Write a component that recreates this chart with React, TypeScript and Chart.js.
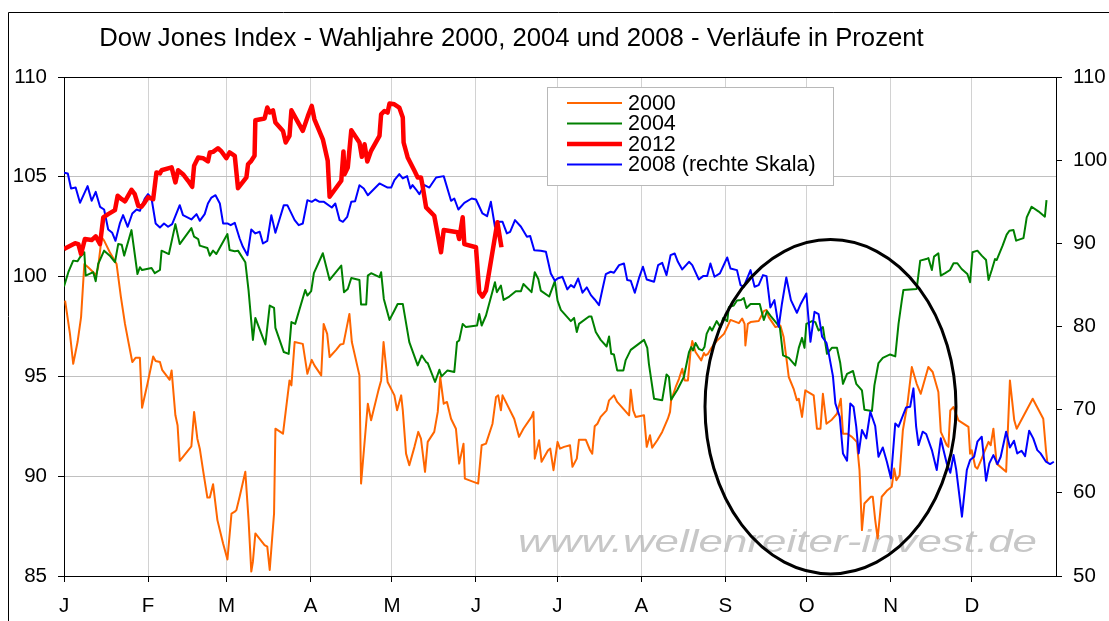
import { useEffect, useRef } from 'react';
import { Chart, registerables } from 'chart.js';

Chart.register(...registerables);

const TITLE = 'Dow Jones Index - Wahljahre 2000, 2004 und 2008 - Verläufe in Prozent';
const WATERMARK = 'www.wellenreiter-invest.de';
const FONT = '"Liberation Sans", Arial, Helvetica, sans-serif';

// x axis: day of year, ticks at month starts (leap-year calendar)
const monthStarts = [0, 31, 60, 91, 121, 152, 182, 213, 244, 274, 305, 335];
const monthLabels = ['J', 'F', 'M', 'A', 'M', 'J', 'J', 'A', 'S', 'O', 'N', 'D'];
const leftTicks = [85, 90, 95, 100, 105, 110];
const rightTicks = [50, 60, 70, 80, 90, 100, 110];

// 2000 (left scale)
const d2000 = [0.4, 2.2, 3.4, 5.0, 6.3, 7.5, 8.9, 10.8, 11.7, 12.6, 13.9, 14.8, 16.9, 19.4, 21.0, 22.5, 23.9, 25.2, 26.4, 28.0, 28.8, 30.8, 32.9, 33.8, 35.4, 36.2, 39.0, 39.7, 41.1, 41.9, 42.7, 47.0, 48.0, 49.2, 50.1, 51.3, 52.9, 53.8, 55.0, 56.6, 58.7, 60.3, 61.8, 63.0,
  63.6, 64.8, 66.9, 68.1, 69.1, 69.7, 70.6, 74.0, 75.0, 75.9, 77.5, 78.0, 80.8, 83.2, 83.9, 85.1, 88.1, 89.8, 91.4, 92.4, 94.9, 95.8, 97.1, 98.0, 100.4, 102.0, 103.1, 105.3, 106.2, 109.0, 109.6, 112.1, 113.3, 116.0, 117.0, 117.9, 119.4,
  121.9, 122.9, 124.4, 125.0, 126.2, 127.4, 129.3, 130.7, 131.7, 133.2, 134.2, 136.6, 137.9, 138.8, 140.1, 141.3, 142.8, 144.6, 145.8, 147.4, 147.9, 152.8, 154.1, 155.7, 158.1, 159.4, 160.2, 161.2, 161.8, 166.1, 167.9, 169.5, 172.5, 173.2, 173.7, 175.3, 176.2, 178.6, 179.4, 180.6, 182.1, 183.0,
  184.5, 186.7, 187.6, 189.2, 190.0, 192.5, 194.1, 194.9, 195.8, 196.8, 198.0, 200.2, 201.1, 202.9, 204.1, 208.5, 209.1, 210.0, 210.9, 214.0, 215.0, 216.2, 217.0, 218.9, 220.7, 222.8, 223.6, 224.0, 225.7, 226.9, 228.1, 229.0, 230.2, 231.2, 231.8, 233.0, 235.1, 236.1, 236.7, 237.6, 239.1, 241.0, 243.5, 244.7, 245.9, 247.1, 249.0,
  250.2, 251.1, 251.4, 252.3, 253.3, 256.3, 258.2, 259.2, 260.0, 262.5, 264.3, 265.5, 266.8, 267.4, 269.2, 270.4, 271.1, 272.3, 273.5, 276.6, 277.8, 279.1, 280.0, 281.3, 283.3, 285.2, 286.6, 287.4, 288.9, 290.7, 292.5, 293.5, 294.4, 295.3, 297.7, 298.4, 299.3, 300.2, 301.7, 303.8, 305.4, 306.3, 307.1, 308.3, 309.5,
  311.2, 312.8, 314.6, 316.1, 318.9, 320.5, 322.6, 323.5, 325.7, 326.3, 327.0, 328.2, 330.0, 333.7, 334.3, 334.9, 336.2, 337.0, 338.6, 339.8, 341.1, 341.9, 342.9, 344.1, 347.6, 349.0, 350.6, 351.5, 357.4, 361.3, 362.3, 362.8];
const v2000 = [98.8, 97.13, 95.63, 96.72, 97.97, 100.63, 100.47, 100.22, 100.05, 100.47, 101.97, 101.8, 101.22, 100.63, 98.97, 97.63, 96.63, 95.72, 95.93, 95.93, 93.43, 94.63, 96.0, 95.77, 95.72, 95.33, 94.83, 95.3, 93.05, 92.55, 90.77, 91.5, 93.22, 91.88, 91.38, 90.3, 88.93, 88.93, 89.6, 87.8, 86.63, 85.83, 88.13, 88.22,
  88.3, 88.97, 90.22, 87.8, 85.22, 85.72, 87.13, 86.55, 86.47, 85.3, 88.13, 92.38, 92.13, 94.8, 94.55, 96.72, 96.63, 95.13, 95.83, 95.55, 95.05, 97.63, 97.13, 95.97, 96.33, 96.6, 96.63, 98.13, 96.72, 95.05, 89.63, 93.63, 92.8, 94.3, 94.8, 96.72, 94.72,
  94.05, 93.3, 94.05, 93.3, 91.13, 90.55, 91.47, 92.22, 91.88, 90.22, 91.72, 92.22, 93.22, 94.97, 93.63, 93.72, 92.88, 92.38, 90.63, 91.63, 89.88, 89.63, 91.55, 91.63, 92.63, 93.97, 94.05, 93.3, 94.05, 92.88, 91.97, 92.38, 92.97, 93.22, 90.88, 91.8, 90.72, 91.3, 91.38, 90.3, 91.72, 91.38,
  91.47, 91.55, 90.47, 90.88, 91.83, 91.83, 91.3, 91.13, 92.5, 92.63, 92.97, 93.3, 93.8, 94.05, 93.72, 93.05, 94.33, 93.3, 92.97, 93.05, 91.47, 92.05, 91.43, 91.8, 92.22, 92.88, 93.22, 93.8, 94.47, 94.88, 95.38, 94.8, 94.8, 96.3, 96.77, 96.22, 95.8, 96.17, 96.05, 96.13, 96.47, 96.8, 97.13, 97.47, 97.83, 97.77, 97.67,
  97.9, 97.63, 96.55, 97.63, 97.72, 97.77, 98.27, 98.33, 97.97, 97.47, 97.55, 96.97, 95.63, 94.97, 94.38, 93.8, 93.88, 92.97, 94.3, 94.05, 92.38, 92.38, 94.13, 92.63, 92.83, 93.13, 93.88, 92.13, 92.13, 91.97, 91.72, 90.3, 87.3, 88.63, 88.97, 88.97, 87.8, 86.88, 88.97, 89.3, 89.47, 90.38, 89.8, 90.05, 92.3,
  93.63, 95.47, 94.63, 94.13, 95.47, 95.22, 94.22, 92.22, 91.55, 91.47, 93.3, 93.47, 92.8, 92.47, 91.13, 91.3, 90.47, 90.38, 90.88, 91.3, 91.72, 91.55, 92.38, 90.63, 90.22, 94.8, 92.8, 92.38, 93.88, 92.88, 91.3, 90.7];

// 2004 (left scale)
const d2004 = [0, 1.6, 3.4, 5.0, 5.9, 7.5, 8.0, 10.8, 11.7, 12.6, 14.8, 16.9, 18.8, 20.0, 21.3, 22.2, 24.9, 27.1, 28.0, 28.8, 32.3, 33.5, 35.4, 36.0, 38.7, 41.1, 42.7, 47.0, 48.0, 49.5, 50.1, 52.9, 53.8, 55.0, 56.2, 60.3, 61.1, 63.0,
  64.2, 66.9, 68.1, 69.7, 70.6, 74.3, 75.9, 77.5, 78.0, 81.1, 82.9, 83.9, 85.3, 89.0, 89.8, 91.2, 92.2, 95.5, 98.0, 102.3, 103.3, 104.7, 106.0, 109.0, 109.6, 111.5, 112.1, 113.3, 116.4, 117.0, 118.0, 120.1,
  121.9, 123.1, 125.0, 127.4, 130.5, 132.0, 133.6, 134.2, 136.9, 138.5, 139.3, 141.5, 144.0, 145.0, 145.8, 147.1, 148.3, 152.4, 153.2, 154.1, 155.7, 159.0, 159.7, 161.2, 162.2, 164.3, 166.7, 168.6, 169.5, 172.5, 173.7, 175.0, 175.9, 179.0, 181.1, 182.1, 183.3, 187.0, 188.2,
  189.2, 190.0, 193.7, 194.6, 196.2, 198.0, 200.2, 201.1, 201.9, 202.9, 204.1, 206.4, 207.2, 209.1, 214.0, 215.2, 215.8, 217.7, 220.7, 222.3, 223.2, 224.0, 226.3, 228.7, 230.6, 231.4, 232.1, 233.0, 234.2, 235.5, 236.3, 237.1, 238.3, 239.1, 240.8, 242.2, 243.2, 244.7, 245.3, 247.1, 248.3, 249.8, 250.8,
  251.8, 253.3, 256.7, 258.2, 259.4, 260.6, 264.1, 265.3, 267.4, 269.8, 271.1, 272.3, 273.2, 273.9, 276.0, 277.2, 278.4, 280.0, 281.5, 283.3, 285.2, 286.4, 287.4, 288.9, 291.1, 292.3, 294.4, 295.3, 298.1, 299.0, 300.5, 302.1, 304.8, 306.7, 307.9, 309.1, 309.7,
  314.6, 315.9, 318.1, 318.9, 320.2, 321.0, 322.6, 323.5, 325.1, 326.9, 328.2, 329.6, 331.2, 333.3, 334.3, 335.2, 337.0, 338.6, 340.2, 341.1, 342.3, 343.5, 344.1, 346.3, 347.8, 348.8, 350.3, 351.3, 354.0, 355.2, 357.0, 359.5, 361.9, 362.5];
const v2004 = [99.5, 100.22, 100.8, 100.77, 100.97, 101.22, 100.05, 100.22, 99.77, 100.63, 101.3, 101.05, 100.72, 101.63, 101.6, 101.05, 102.33, 100.13, 100.47, 100.33, 100.43, 100.17, 100.33, 101.3, 101.13, 102.63, 101.63, 102.43, 102.0, 101.88, 101.55, 101.43, 101.05, 101.3, 101.13, 102.13, 101.33, 101.27,
  101.3, 100.72, 99.3, 96.83, 97.93, 96.6, 98.55, 98.43, 97.43, 96.22, 96.13, 97.72, 97.63, 99.33, 99.05, 99.27, 100.17, 101.17, 99.83, 100.55, 99.22, 99.38, 99.93, 99.83, 98.6, 98.6, 100.05, 100.17, 99.97, 100.22, 98.88, 97.83,
  98.3, 98.63, 98.63, 96.72, 95.55, 96.05, 95.72, 95.67, 94.72, 95.33, 95.0, 95.3, 95.22, 96.72, 96.8, 97.63, 97.47, 97.55, 98.13, 97.55, 98.05, 99.72, 99.22, 99.55, 98.83, 99.0, 99.27, 99.27, 99.63, 99.22, 100.22, 99.88, 99.3, 99.0, 99.77, 98.8, 98.33, 97.77, 97.93,
  97.22, 97.63, 98.0, 98.0, 97.22, 96.83, 96.5, 97.0, 96.13, 96.1, 95.3, 95.3, 95.8, 96.33, 96.83, 96.43, 95.63, 93.88, 93.8, 95.1, 94.97, 93.83, 94.33, 94.97, 96.22, 96.47, 96.3, 96.67, 96.38, 96.3, 96.47, 97.13, 97.47, 97.3, 97.77, 97.47, 97.93, 97.77, 98.47, 98.55, 98.8, 98.83, 98.93,
  98.43, 98.63, 98.63, 97.83, 98.27, 98.05, 97.47, 96.05, 95.93, 95.55, 96.43, 96.93, 96.43, 97.63, 97.77, 97.72, 97.3, 97.47, 96.13, 96.43, 96.43, 95.67, 94.63, 95.13, 95.27, 94.63, 94.3, 93.33, 93.27, 94.55, 95.67, 95.93, 96.1, 96.0, 97.63, 98.8, 99.33,
  99.38, 100.8, 100.88, 100.93, 100.33, 101.0, 101.17, 100.05, 100.17, 100.33, 100.67, 100.67, 100.38, 100.13, 99.72, 101.22, 101.3, 101.05, 100.83, 99.83, 100.33, 100.88, 100.83, 101.55, 102.1, 102.3, 102.33, 101.8, 101.93, 102.97, 103.5, 103.27, 103.0, 103.83];

// 2012 (left scale)
const d2012 = [0, 4.1, 5.3, 6.3, 7.7, 10.2, 11.7, 13.3, 14.5, 16.3, 18.8, 19.8, 21.3, 22.5, 24.9, 26.1, 27.4, 28.6, 29.8, 31.0, 32.9, 34.1, 35.4, 36.0, 39.7, 41.1, 42.1, 43.9, 45.8, 47.3, 48.0, 49.5, 51.3, 53.1, 53.8, 55.0, 56.8, 58.1, 59.9, 61.1, 63.0, 64.2, 67.3, 67.9, 69.1, 70.3, 70.6, 74.0, 75.0, 75.9, 77.1, 78.0, 80.8, 81.8, 83.2, 83.9, 88.1, 90.0, 91.4, 92.4, 95.5, 97.3, 98.0, 102.3, 103.1, 103.5, 104.7, 106.0, 109.0, 109.9, 110.9, 111.9, 113.3, 116.4, 117.0, 118.2, 119.4, 120.1, 121.9, 123.7, 125.0, 125.3, 126.8, 129.3, 130.5, 131.7, 132.3, 133.6, 136.6, 139.1, 140.1, 145.2, 145.8, 147.1, 147.7, 152.0, 153.2, 154.4, 155.7, 159.9, 161.4];
const v2012 = [101.38, 101.67, 101.63, 101.13, 101.88, 101.83, 102.02, 101.63, 102.97, 103.13, 103.33, 104.05, 103.88, 103.77, 104.35, 104.13, 103.55, 103.5, 103.72, 103.97, 103.88, 105.22, 105.17, 105.33, 105.47, 104.72, 105.33, 105.13, 104.8, 104.5, 105.55, 105.97, 105.93, 105.77, 106.22, 106.25, 106.43, 106.27, 105.93, 106.22, 106.05, 104.43, 104.97, 105.63, 105.8, 106.05, 107.83, 107.92, 108.47, 108.22, 108.33, 107.72, 107.3, 106.72, 107.05, 108.33, 107.3, 108.05, 108.55, 107.88, 106.88, 105.8, 104.0, 104.8, 106.27, 105.13, 105.47, 107.33, 106.72, 106.0, 106.63, 105.77, 106.3, 107.05, 108.13, 108.3, 108.22, 108.67, 108.63, 108.47, 107.97, 106.72, 105.97, 105.3, 104.97, 104.97, 104.55, 103.47, 103.05, 101.22, 102.33, 102.22, 101.88, 102.97, 101.63, 101.47, 99.22, 99.0, 99.3, 102.72, 101.47];

// 2008 (right scale)
const d2008 = [0, 1.4, 2.6, 4.3, 5.9, 8.7, 10.2, 11.7, 13.3, 14.8, 16.3, 17.8, 19.0, 20.6, 21.8, 23.5, 25.2, 26.8, 28.0, 29.8, 31.0, 32.3, 33.8, 35.4, 36.9, 38.4, 39.9, 42.7, 43.9, 47.0, 48.9, 50.1, 51.9, 53.1, 54.4, 55.9, 57.5, 58.7, 60.3, 61.5, 63.0,
  64.8, 66.0, 67.7, 69.1, 70.6, 72.2, 73.4, 75.0, 76.5, 78.0, 79.6, 81.1, 82.4, 85.1, 86.6, 88.1, 89.8, 91.4, 92.7, 94.3, 95.9, 98.8, 100.1, 101.7, 102.9, 104.5, 106.0, 107.4, 109.0, 110.6, 112.1, 116.4, 119.4, 120.7,
  121.9, 123.7, 125.0, 126.6, 127.8, 128.6, 129.9, 131.1, 133.0, 134.8, 137.3, 140.1, 142.8, 144.0, 145.5, 147.7, 150.4, 152.0, 154.4, 156.1, 157.5, 159.0, 160.0, 161.8, 163.4, 164.6, 166.4, 168.6, 170.8, 172.0, 173.5, 175.9, 177.8, 179.6, 181.1, 182.1, 183.9,
  185.7, 187.0, 188.2, 189.7, 191.3, 192.9, 194.4, 195.8, 197.4, 198.6, 199.9, 201.7, 202.9, 204.8, 206.6, 207.8, 209.1, 210.6, 212.1, 213.6, 215.0, 217.7, 219.2, 220.7, 222.3, 223.8, 225.3, 226.5, 228.1, 230.6, 231.8, 234.2, 235.8, 237.3, 238.5, 240.0, 242.0, 244.7, 245.9, 248.3, 249.6, 250.8,
  253.3, 254.8, 256.3, 257.9, 259.2, 260.6, 262.1, 263.7, 264.9, 266.5, 268.2, 270.4, 271.9, 273.9, 275.4, 276.9, 278.4, 279.7, 281.3, 282.1, 283.7, 284.6, 286.2, 287.4, 288.9, 290.1, 291.3, 292.3, 293.2, 294.4, 296.0, 297.5, 299.3, 300.5, 302.1, 303.6, 305.1, 306.7, 307.9, 310.7, 312.2, 313.4,
  314.4, 315.3, 316.8, 318.1, 320.2, 322.0, 323.5, 324.2, 325.7, 327.0, 328.2, 329.2, 331.3, 333.1, 334.3, 335.8, 337.0, 338.6, 340.2, 341.4, 342.9, 344.4, 345.6, 347.6, 349.0, 350.5, 351.7, 353.3, 354.6, 356.1, 357.6, 359.1, 360.3, 362.3, 363.8, 365.2];
const v2008 = [98.48, 98.4, 96.6, 96.72, 94.87, 96.88, 95.11, 96.19, 94.39, 94.07, 91.67, 91.27, 90.3, 92.39, 93.39, 91.99, 93.59, 94.07, 93.91, 95.39, 95.91, 95.39, 92.39, 91.91, 92.39, 91.99, 92.31, 94.59, 93.39, 92.87, 93.51, 92.71, 93.51, 94.79, 95.51, 95.79, 94.79, 92.39, 92.39, 92.19, 92.47,
  90.58, 89.58, 88.58, 91.67, 91.19, 91.39, 89.98, 90.3, 93.39, 91.27, 92.99, 94.59, 94.59, 92.79, 92.19, 92.39, 95.19, 94.99, 95.27, 94.99, 94.99, 94.31, 94.79, 92.79, 92.59, 93.19, 94.99, 95.07, 96.99, 96.59, 95.79, 97.2, 96.71, 96.71,
  97.6, 98.32, 97.8, 98.08, 96.6, 97.0, 96.47, 95.91, 97.0, 96.71, 97.92, 98.08, 95.11, 95.39, 94.07, 94.87, 95.39, 95.27, 93.59, 93.27, 94.99, 91.99, 92.59, 92.59, 91.19, 91.39, 92.79, 91.99, 90.79, 90.87, 89.18, 89.1, 88.98, 86.38, 85.5, 85.78, 85.98,
  84.46, 84.98, 84.7, 85.78, 84.06, 84.7, 83.77, 83.25, 82.57, 84.38, 86.3, 86.58, 86.46, 87.38, 87.58, 85.58, 85.5, 84.06, 85.78, 87.18, 85.66, 85.38, 87.38, 87.66, 86.18, 88.58, 88.78, 87.78, 86.86, 87.78, 87.38, 85.66, 86.06, 86.06, 87.58, 85.98, 86.38, 88.3, 86.98, 86.78, 84.98, 84.78,
  86.78, 84.78, 84.98, 86.18, 86.06, 82.29, 83.17, 79.97, 82.77, 85.9, 83.17, 81.65, 82.77, 83.97, 78.16, 81.77, 81.49, 78.77, 78.05, 76.86, 74.04, 70.75, 69.15, 64.74, 63.86, 70.75, 70.35, 67.95, 64.74, 67.55, 66.55, 69.75, 68.03, 64.34, 65.46, 63.74, 61.74, 68.35, 67.95, 70.27, 70.35, 72.56,
  67.95, 65.75, 67.35, 67.07, 65.14, 62.74, 66.55, 65.55, 63.54, 62.42, 64.54, 62.74, 57.13, 62.74, 63.94, 64.34, 66.15, 66.75, 61.46, 63.54, 64.54, 63.46, 64.34, 67.35, 65.46, 66.27, 64.74, 65.06, 64.42, 67.47, 66.55, 65.14, 64.74, 63.74, 63.46, 63.74];

// highlighted region (ellipse) in data units
const ellipseCenterDay = 282.8;
const ellipseCenterValue = 93.48;
const ellipseRadiusDays = 46.3;
const ellipseRadiusValue = 8.375;

const legendOrder = ['2000', '2004', '2012', '2008 (rechte Skala)'];

const zip = (d: number[], v: number[]) =>
  d.slice(0, Math.min(d.length, v.length)).map((x, i) => ({ x, y: v[i] }));

const decorPlugin = {
  id: 'decor',
  beforeDatasetsDraw(chart: any) {
    const { ctx } = chart;
    ctx.save();
    ctx.font = `italic 32px ${FONT}`;
    const w = ctx.measureText(WATERMARK).width;
    ctx.translate(518, 552);
    ctx.scale(519 / w, 1);
    ctx.fillStyle = 'rgba(185,185,185,0.8)';
    ctx.textBaseline = 'alphabetic';
    ctx.textAlign = 'left';
    ctx.fillText(WATERMARK, 0, 0);
    ctx.restore();
  },
  afterDatasetsDraw(chart: any) {
    const { ctx, chartArea: a, scales } = chart;
    ctx.save();
    // top border of plot area
    ctx.strokeStyle = '#000';
    ctx.lineWidth = 1;
    ctx.beginPath();
    const ty = Math.round(a.top) + 0.5;
    ctx.moveTo(a.left, ty);
    ctx.lineTo(a.right, ty);
    ctx.stroke();

    // ellipse
    const xs = scales.x;
    const ys = scales.y;
    const cx = xs.getPixelForValue(ellipseCenterDay);
    const cy = ys.getPixelForValue(ellipseCenterValue);
    const rx = xs.getPixelForValue(ellipseCenterDay + ellipseRadiusDays) - cx;
    const ry = cy - ys.getPixelForValue(ellipseCenterValue + ellipseRadiusValue);
    ctx.beginPath();
    ctx.ellipse(cx, cy, rx, ry, 0, 0, Math.PI * 2);
    ctx.lineWidth = 3;
    ctx.strokeStyle = '#000';
    ctx.stroke();

    // legend
    const bx = 547, by = 87, bw = 286, bh = 98;
    ctx.fillStyle = '#fff';
    ctx.fillRect(bx, by, bw, bh);
    ctx.lineWidth = 1;
    ctx.strokeStyle = '#b8b8b8';
    ctx.strokeRect(bx + 0.5, by + 0.5, bw, bh);
    const rows = [103, 123.5, 144, 164.5];
    ctx.font = `21.5px ${FONT}`;
    ctx.textBaseline = 'middle';
    ctx.textAlign = 'left';
    legendOrder.forEach((label, i) => {
      const ds = chart.data.datasets.find((d: any) => d.label === label);
      if (!ds) return;
      ctx.beginPath();
      ctx.moveTo(567, rows[i]);
      ctx.lineTo(622, rows[i]);
      ctx.strokeStyle = ds.borderColor;
      ctx.lineWidth = ds.borderWidth;
      ctx.lineCap = 'butt';
      ctx.stroke();
      ctx.fillStyle = '#000';
      ctx.fillText(label, 628, rows[i] + 1);
    });
    ctx.restore();
  },
  afterDraw(chart: any) {
    const { ctx } = chart;
    ctx.save();
    // title
    ctx.font = `25.7px ${FONT}`;
    ctx.fillStyle = '#000';
    ctx.textBaseline = 'alphabetic';
    ctx.textAlign = 'center';
    ctx.fillText(TITLE, 511.5, 45.5);
    // outer frame (left and top edges)
    ctx.strokeStyle = '#000';
    ctx.lineWidth = 1;
    ctx.beginPath();
    ctx.moveTo(8.5, 621);
    ctx.lineTo(8.5, 12.5);
    ctx.lineTo(1109, 12.5);
    ctx.stroke();
    ctx.restore();
  },
};

export default function App() {
  const ref = useRef<HTMLCanvasElement | null>(null);

  useEffect(() => {
    if (!ref.current) return;
    const tickFont = { family: FONT, size: 20.5 };
    const chart = new Chart(ref.current, {
      type: 'line',
      data: {
        datasets: [
          {
            label: '2012',
            data: zip(d2012, v2012),
            borderColor: '#FF0000',
            borderWidth: 4.5,
            yAxisID: 'y',
            order: 0,
          },
          {
            label: '2008 (rechte Skala)',
            data: zip(d2008, v2008),
            borderColor: '#0000FF',
            borderWidth: 2,
            yAxisID: 'y2',
            order: 1,
          },
          {
            label: '2004',
            data: zip(d2004, v2004),
            borderColor: '#008000',
            borderWidth: 2,
            yAxisID: 'y',
            order: 2,
          },
          {
            label: '2000',
            data: zip(d2000, v2000),
            borderColor: '#FF6600',
            borderWidth: 2,
            yAxisID: 'y',
            order: 3,
          },
        ] as any,
      },
      options: {
        animation: false,
        responsive: false,
        layout: { padding: { top: 77, left: 0, right: 0, bottom: 0 } },
        elements: {
          point: { radius: 0, hoverRadius: 0 },
          line: { tension: 0, borderJoinStyle: 'round', fill: false },
        },
        plugins: {
          legend: { display: false },
          title: { display: false },
          tooltip: { enabled: false },
        },
        scales: {
          x: {
            type: 'linear',
            min: 0,
            max: 366,
            afterBuildTicks: (s: any) => {
              s.ticks = monthStarts.map((v) => ({ value: v }));
            },
            afterFit: (s: any) => {
              s.height = 45;
            },
            ticks: {
              autoSkip: false,
              maxRotation: 0,
              padding: 12,
              color: '#000',
              font: tickFont,
              callback: (v: any) => {
                const i = monthStarts.indexOf(Number(v));
                return i >= 0 ? monthLabels[i] : '';
              },
            },
            grid: { color: '#d2d2d2', tickColor: '#000', tickLength: 6, lineWidth: 1 },
            border: { display: true, color: '#000', width: 1 },
          },
          y: {
            type: 'linear',
            position: 'left',
            min: 85,
            max: 110,
            afterBuildTicks: (s: any) => {
              s.ticks = leftTicks.map((v) => ({ value: v }));
            },
            afterFit: (s: any) => {
              s.width = 64;
            },
            ticks: { padding: 11, color: '#000', font: tickFont },
            grid: { color: '#c0c0c0', tickColor: '#000', tickLength: 6, lineWidth: 1 },
            border: { display: true, color: '#000', width: 1 },
          },
          y2: {
            type: 'linear',
            position: 'right',
            min: 50,
            max: 110,
            afterBuildTicks: (s: any) => {
              s.ticks = rightTicks.map((v) => ({ value: v }));
            },
            afterFit: (s: any) => {
              s.width = 53;
            },
            ticks: { padding: 11, color: '#000', font: tickFont },
            grid: { drawOnChartArea: false, color: '#000', tickColor: '#000', tickLength: 6 },
            border: { display: true, color: '#000', width: 1 },
          },
        },
      } as any,
      plugins: [decorPlugin],
    });
    return () => chart.destroy();
  }, []);

  return (
    <div style={{ position: 'fixed', left: 0, top: 0, width: 1109, height: 621, background: '#fff' }}>
      <canvas ref={ref} width={1109} height={621} style={{ display: 'block' }} />
    </div>
  );
}
